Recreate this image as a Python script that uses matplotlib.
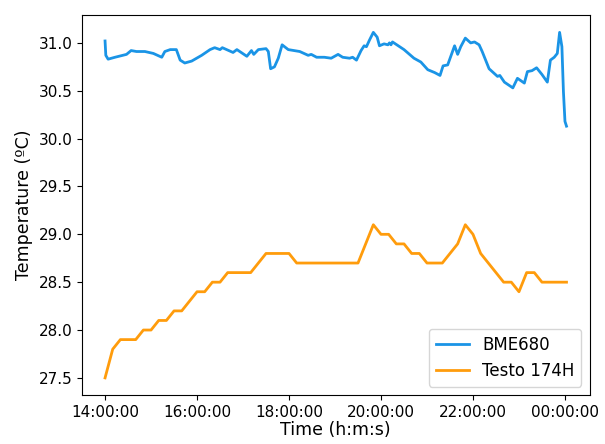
import matplotlib
matplotlib.use("Agg")
import matplotlib.pyplot as plt
import matplotlib.dates as mdates
import pandas as pd

# BME680 readings (time, degC)
bme_times = ["14:00", "14:01", "14:04", "14:13", "14:28", "14:34", "14:41", "14:52",
             "15:03", "15:14", "15:18", "15:25", "15:33", "15:38", "15:44", "15:53",
             "16:06", "16:17", "16:23", "16:30", "16:33", "16:47", "16:52", "17:05",
             "17:11", "17:14", "17:20", "17:30", "17:33", "17:36", "17:41", "17:46",
             "17:51", "17:59", "18:14", "18:25", "18:29", "18:36", "18:46", "18:55",
             "19:04", "19:10", "19:19", "19:23", "19:28", "19:34", "19:38", "19:41",
             "19:45", "19:50", "19:55", "19:58", "20:04", "20:09", "20:11", "20:13",
             "20:15", "20:30", "20:43", "20:52", "21:01", "21:10", "21:17", "21:21",
             "21:27", "21:36", "21:40", "21:44", "21:50", "21:57", "22:02", "22:08",
             "22:12", "22:21", "22:32", "22:35", "22:41", "22:52", "22:58", "23:07",
             "23:11", "23:17", "23:23", "23:30", "23:37", "23:41", "23:46", "23:50",
             "23:53", "23:56", "23:58", "00:00", "00:02"]
bme_temp = [31.02, 30.87, 30.83, 30.85, 30.88, 30.92, 30.91, 30.91,
            30.89, 30.85, 30.91, 30.93, 30.93, 30.82, 30.79, 30.81,
            30.87, 30.93, 30.95, 30.93, 30.95, 30.90, 30.93, 30.86,
            30.92, 30.88, 30.93, 30.94, 30.91, 30.73, 30.75, 30.84,
            30.98, 30.93, 30.91, 30.87, 30.88, 30.85, 30.85, 30.84,
            30.88, 30.85, 30.84, 30.85, 30.82, 30.92, 30.97, 30.96,
            31.03, 31.11, 31.06, 30.97, 30.99, 30.98, 31.00, 30.98,
            31.01, 30.93, 30.84, 30.80, 30.72, 30.69, 30.66, 30.76,
            30.77, 30.97, 30.88, 30.96, 31.05, 31.00, 31.01, 30.98,
            30.91, 30.73, 30.65, 30.66, 30.59, 30.53, 30.63, 30.58,
            30.70, 30.71, 30.74, 30.67, 30.59, 30.82, 30.85, 30.89,
            31.11, 30.96, 30.49, 30.18, 30.13]

# Testo 174H readings (time, degC)
testo_times = ["14:00", "14:10", "14:20", "14:40", "14:50", "15:00", "15:10", "15:20",
               "15:30", "15:40", "16:00", "16:10", "16:20", "16:30", "16:40", "17:10",
               "17:30", "18:00", "18:10", "19:30", "19:50", "20:00", "20:10", "20:20",
               "20:30", "20:40", "20:50", "21:00", "21:20", "21:30", "21:40", "21:50",
               "22:00", "22:10", "22:40", "22:50", "23:00", "23:10", "23:20", "23:30",
               "00:02"]
testo_temp = [27.5, 27.8, 27.9, 27.9, 28.0, 28.0, 28.1, 28.1,
              28.2, 28.2, 28.4, 28.4, 28.5, 28.5, 28.6, 28.6,
              28.8, 28.8, 28.7, 28.7, 29.1, 29.0, 29.0, 28.9,
              28.9, 28.8, 28.8, 28.7, 28.7, 28.8, 28.9, 29.1,
              29.0, 28.8, 28.5, 28.5, 28.4, 28.6, 28.6, 28.5,
              28.5]


def to_datetime(times):
    # times after midnight belong to the next day
    out = []
    for t in times:
        day = "2023-01-02" if int(t[:2]) < 14 else "2023-01-01"
        out.append(pd.Timestamp(day + " " + t))
    return out


fig = plt.figure(figsize=(6.05, 4.44), dpi=100)
ax = fig.add_axes([0.1355, 0.110, 0.839, 0.856])

ax.plot(to_datetime(bme_times), bme_temp, color="#1a94e6", lw=2.0, label="BME680")
ax.plot(to_datetime(testo_times), testo_temp, color="#ff9c0c", lw=2.0, label="Testo 174H")

ax.xaxis.set_major_locator(mdates.HourLocator(byhour=range(0, 24, 2)))
ax.xaxis.set_major_formatter(mdates.DateFormatter("%H:%M:%S"))
ax.set_yticks([27.5, 28.0, 28.5, 29.0, 29.5, 30.0, 30.5, 31.0])
ax.tick_params(labelsize=11)

ax.set_xlabel("Time (h:m:s)", fontsize=12.5, labelpad=1)
ax.set_ylabel("Temperature (ºC)", fontsize=12.5)
ax.legend(loc="lower right", fontsize=12)

fig.savefig("out.png", dpi=100)
